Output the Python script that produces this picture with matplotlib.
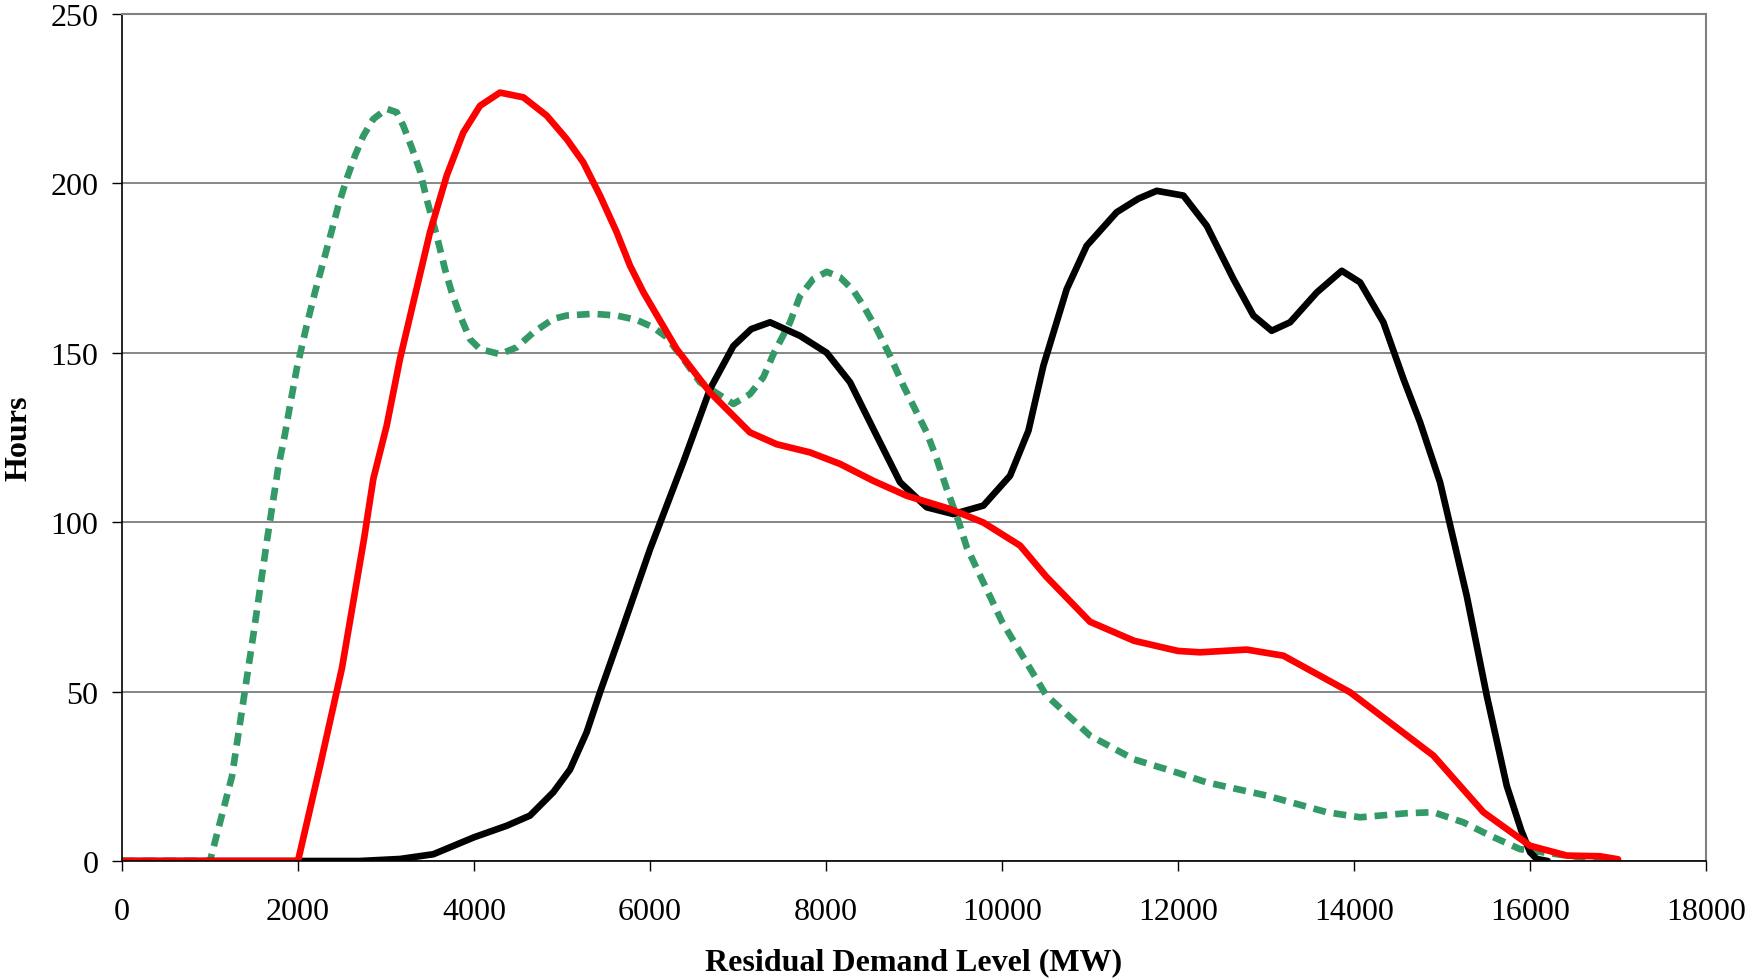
import numpy as np
import matplotlib
matplotlib.use("Agg")
import matplotlib.pyplot as plt

plt.rcParams["font.family"] = ["Liberation Serif", "DejaVu Serif"]

# black solid series (MW, hours)
black_x = [0, 1000, 2000, 2700, 3159, 3538, 4000, 4371, 4636, 4901, 5091, 5280, 5432,
           5659, 6000, 6378, 6682, 6947, 7150, 7364, 7705, 8008, 8273, 8576, 8841,
           9144, 9447, 9788, 10091, 10300, 10470, 10735, 10962, 11303, 11550, 11758,
           12061, 12326, 12629, 12856, 13064, 13273, 13576, 13860, 14068, 14333,
           14561, 14750, 14977, 15280, 15508, 15735, 15900, 16000, 16076, 16200]
black_y = [0, 0, 0, 0, 0.6, 2, 7, 10.4, 13.4, 20.3, 27, 38, 49.8,
           66.5, 92, 117.7, 139.3, 152, 157, 159, 155, 150, 141.3, 125.5, 111.8,
           104.4, 102.4, 104.9, 113.7, 127, 146.2, 168.8, 181.6, 191.5, 195.5, 197.8,
           196.4, 187.5, 171.8, 161, 156.5, 159, 167.8, 174.2, 170.8, 159,
           142.3, 129.5, 111.8, 78.3, 48.8, 22.2, 9, 2.6, 0.6, 0]

# red solid series
red_x = [0, 1000, 2000, 2250, 2500, 2750, 2856, 3008, 3159, 3311, 3500, 3690, 3878,
         4068, 4295, 4561, 4826, 5053, 5242, 5432, 5621, 5773, 5924, 6303, 6682,
         7136, 7440, 7818, 8159, 8538, 8917, 9409, 9788, 10205, 10500, 11000,
         11500, 12000, 12250, 12780, 13197, 13955, 14902, 15470, 16000, 16417,
         16795, 17000]
red_y = [0, 0, 0, 28, 57, 95, 112.8, 128.5, 148.2, 164.9, 185.6, 202.3, 215,
         222.9, 226.8, 225.4, 220, 213.1, 206.2, 196.4, 185.6, 175.7, 167.9, 151.1, 138.3,
         126.5, 123, 120.6, 117.2, 112.2, 107.8, 103.9, 99.9, 93.1, 84, 70.6,
         65, 62, 61.6, 62.4, 60.6, 49.8, 31.1, 14.4, 4.5, 1.6,
         1.4, 0.5]

# green dashed series
green_x = [0, 1000, 1250, 1500, 1650, 1776, 1852, 1909, 1985, 2098, 2193, 2307, 2383,
           2458, 2553, 2648, 2742, 2856, 3008, 3121, 3197, 3292, 3386, 3462, 3576,
           3670, 3746, 3841, 3955, 4068, 4295, 4485, 4674, 4901, 5053, 5356, 5621,
           5849, 6038, 6189, 6378, 6568, 6947, 7136, 7288, 7402, 7591, 7705, 7856,
           8008, 8159, 8311, 8424, 8576, 8727, 8879, 9030, 9144, 9258, 9372, 9504,
           9599, 10000, 10500, 11000, 11500, 12000, 12326, 13008, 13690, 14068,
           14598, 14902, 15243, 15545, 15886, 16417, 17000]
green_y = [0, 0, 25, 68, 95, 116.2, 126, 134.4, 145.2, 158, 167.9, 178.7, 186,
           193.4, 201.3, 208.2, 214, 219, 222, 221, 217, 210.6, 203.7, 195.4, 184.6,
           174.7, 167.9, 161, 154, 151.1, 149.6, 151.6, 156, 160, 161, 161.5, 161,
           159.7, 157.5, 154.6, 148.2, 141.3, 134.9, 137.8, 142.8, 149.6, 159, 166.8, 171.8,
           173.9, 172.3, 168.4, 163.9, 157, 149.1, 140.3, 132.4, 126.5, 118.7, 109.8, 100.4,
           92.6, 70.6, 49, 37, 30, 26, 23.2, 19.3, 14.4, 12.9,
           14.1, 14.4, 11.4, 7.5, 3.5, 1.6, 0]

fig = plt.figure(figsize=(17.45, 9.79), dpi=100)
ax = fig.add_axes([0.0699, 0.1195, 0.9078, 0.8652])

ax.plot(green_x, green_y, color="#339966", lw=4.8, dashes=(1.9, 1.2),
        solid_joinstyle="round")
ax.plot(black_x, black_y, color="black", lw=4.8, solid_joinstyle="round",
        solid_capstyle="round")
ax.plot(red_x, red_y, color="#ff0000", lw=4.8, solid_joinstyle="round",
        solid_capstyle="round")

ax.set_xlim(0, 18000)
ax.set_ylim(0, 250)
ax.set_xticks(range(0, 18001, 2000))
ax.set_yticks(range(0, 251, 50))
ax.yaxis.grid(True, color="#666666", lw=1.1)
ax.set_axisbelow(True)
ax.tick_params(labelsize=23, length=7, width=1, direction="out")
ax.tick_params(axis="x", pad=19)
ax.tick_params(axis="y", pad=10)

for s in ["top", "right"]:
    ax.spines[s].set_color("#808080")
    ax.spines[s].set_linewidth(1.5)
for s in ["left", "bottom"]:
    ax.spines[s].set_color("black")
    ax.spines[s].set_linewidth(1.2)

ax.set_xlabel("Residual Demand Level (MW)", fontsize=23, fontweight="bold", labelpad=15)
ax.set_ylabel("Hours", fontsize=23, fontweight="bold", labelpad=12)

fig.savefig("out.png", dpi=100)
